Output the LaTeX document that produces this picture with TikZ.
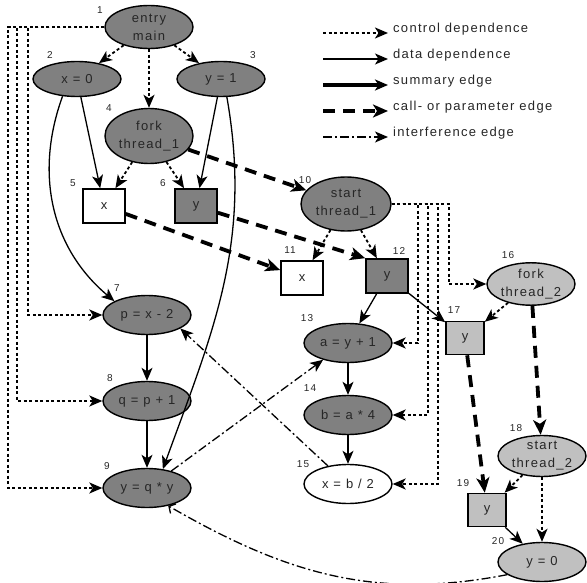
\documentclass[tikz,border=0pt]{standalone}
\usepackage{fontspec}
\setmainfont{Liberation Sans}[LetterSpace=10]
\usetikzlibrary{shapes.geometric,arrows.meta}
\definecolor{darkfill}{RGB}{128,128,128}
\definecolor{lightfill}{RGB}{192,192,192}
\tikzset{
  arr/.style={-{Stealth[length=13pt,width=11pt,inset=3.5pt]}},
  stmt/.style={ellipse, draw, line width=1.4pt, fill=darkfill, inner sep=0pt,
    minimum width=88pt, minimum height=39pt, align=center, text=black!85,
    font=\fontsize{13}{18}\selectfont},
  var/.style={rectangle, draw, line width=1.6pt, fill=darkfill, inner sep=0pt,
    minimum width=42pt, minimum height=34pt, text=black!85,
    font=\fontsize{13}{18}\selectfont},
  num/.style={font=\fontsize{10}{11}\selectfont, text=black!85, inner sep=0pt},
  legend/.style={font=\fontsize{13}{15}\selectfont, text=black!85, inner sep=0pt},
  ctrl/.style={arr, line width=1.8pt, dash pattern=on 3pt off 2.5pt},
  data/.style={arr, line width=1.3pt},
  summ/.style={arr, line width=3.8pt},
  call/.style={-{Stealth[length=15pt,width=13pt,inset=4pt]}, line width=3.8pt,
    dash pattern=on 12pt off 8pt},
  intf/.style={arr, line width=1.3pt, dash pattern=on 9pt off 3pt on 2pt off 3pt}
}
\begin{document}
\begin{tikzpicture}[x=1pt,y=-1pt]
\useasboundingbox (0,0) rectangle (587,583);
% main
\node[stmt, minimum height=43pt] (entry) at (149,27) {entry\\main};
\node[stmt, minimum height=35pt] (xz) at (77,79) {x = 0};
\node[stmt, minimum height=35pt] (yo) at (221,79) {y = 1};
\node[stmt, minimum height=55pt] (fk1) at (149,136) {fork\\thread\_1};
\node[var, fill=white] (x5) at (104,206) {x};
\node[var] (y6) at (196,206) {y};
\node[stmt] (p7) at (147,315) {p = x - 2};
\node[stmt] (q8) at (147,401) {q = p + 1};
\node[stmt] (y9) at (147,488) {y = q * y};
% thread_1
\node[stmt, minimum width=90pt, minimum height=54pt] (st1) at (346,204) {start\\thread\_1};
\node[var, fill=white] (x11) at (302,278) {x};
\node[var] (y12) at (387,276) {y};
\node[stmt] (a13) at (348,343) {a = y + 1};
\node[stmt] (b14) at (348,415) {b = a * 4};
\node[stmt, fill=white] (x15) at (348,484) {x = b / 2};
% thread_2
\node[stmt, fill=lightfill, minimum height=40pt] (fk2) at (531,284) {fork\\thread\_2};
\node[var, fill=lightfill, minimum width=38pt, minimum height=33pt] (y17) at (465,338) {y};
\node[stmt, fill=lightfill, minimum height=40pt] (st2) at (542,456) {start\\thread\_2};
\node[var, fill=lightfill, minimum width=38pt, minimum height=33pt] (y19) at (487,510) {y};
\node[stmt, fill=lightfill] (y20) at (542,562) {y = 0};
% numbers
\foreach \n/\x/\y in {1/100/10, 2/50/55, 3/253/55, 4/109/108, 5/73/183, 6/163/183,
  7/117/288, 8/110/378, 9/107/466, 10/305/180, 11/290/250, 12/399/251, 13/307/318,
  14/310/388, 15/303/464, 16/508/255, 17/454/310, 18/516/428, 19/463/483, 20/498/541}
  \node[num] (num\n) at (\x,\y) {\n};
% control dependences
\draw[ctrl] (entry) -- (xz);
\draw[ctrl] (entry) -- (yo);
\draw[ctrl] (entry) -- (fk1);
\draw[ctrl] (entry.west) -- ++(-76,0) |- (p7.west);
\draw[ctrl] (entry.west) -- ++(-87,0) |- (q8.west);
\draw[ctrl] (entry.west) -- ++(-96,0) |- (y9.west);
\draw[ctrl] (fk1) -- (x5);
\draw[ctrl] (fk1) -- (y6);
\draw[ctrl] (st1) -- (x11);
\draw[ctrl] (st1) -- (y12);
\draw[ctrl] (st1.east) -- ++(26,0) |- (a13.east);
\draw[ctrl] (st1.east) -- ++(36,0) |- (b14.east);
\draw[ctrl] (st1.east) -- ++(46,0) |- (x15.east);
\draw[ctrl] (st1.east) -- ++(57,0) |- (fk2.west);
\draw[ctrl] (fk2) -- (y17);
\draw[ctrl] (st2) -- (y19);
\draw[ctrl] (st2) -- (y20);
% data dependences
\draw[data] (xz) -- (x5);
\draw[data] (yo) -- (y6);
\draw[data] (xz.230) to[out=250,in=140] (p7.157);
\draw[data] (yo.288) to[out=280,in=70] (y9.50);
\draw[data] (p7) -- (q8);
\draw[data] (q8) -- (y9);
\draw[data] (y12) -- (a13);
\draw[data] (y12) -- (y17);
\draw[data] (a13) -- (b14);
\draw[data] (b14) -- (x15);
\draw[data] (y19) -- (y20);
% call and parameter edges
\draw[call] (fk1) -- (st1);
\draw[call] (x5) -- (x11);
\draw[call] (y6) -- (y12.north west);
\draw[call] (fk2) -- (st2);
\draw[call] (y17) -- (y19);
% interference
\draw[intf] (x15.138) -- (p7.-22);
\draw[intf] (y9.35) -- (a13.214);
\draw[intf, -{Straight Barb[length=5pt,width=11pt]}] (y20.200) to[out=191,in=-30] (y9.-40);
% legend
\foreach \sty/\txt [count=\i] in {ctrl/control dependence, data/data dependence,
  summ/summary edge, call/call- or parameter edge, intf/interference edge} {
  \coordinate (lg\i) at (323,7+26*\i);
  \draw[\sty] (lg\i) -- ++(65,0);
  \node[legend, anchor=base west] (lt\i) at (393,7+26*\i) {\txt};
}
\end{tikzpicture}
\end{document}
